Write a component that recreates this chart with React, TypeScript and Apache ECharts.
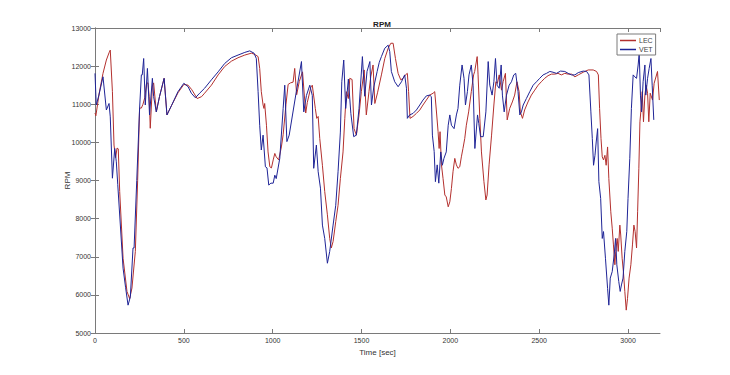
import React, { useEffect, useRef } from "react";
import * as echarts from "echarts";

const xTicks = [0, 500, 1000, 1500, 2000, 2500, 3000];
const yTicks = [5000, 6000, 7000, 8000, 9000, 10000, 11000, 12000, 13000];

const vetTime = [
  0, 7, 22, 45, 64, 79, 86, 98, 111, 120, 128, 158, 172, 186, 199, 214, 220, 235, 251, 261, 266, 274, 283, 295, 307, 323, 330, 345, 363, 389, 405, 430, 467, 500,
  524, 542, 565, 589, 617, 655, 693, 730, 768, 805, 843, 871, 895, 908, 918, 927, 936, 946, 959, 968, 978, 990, 1003, 1012, 1020, 1040, 1059, 1068,
  1080, 1093, 1133, 1162, 1175, 1190, 1209, 1223, 1231, 1246, 1256, 1269, 1280, 1293, 1308, 1321, 1340, 1355, 1368, 1381, 1389, 1400, 1411, 1426, 1440, 1456, 1471, 1486, 1505, 1518, 1531, 1547, 1556, 1569, 1588,
  1600, 1612, 1631, 1650, 1659, 1668, 1687, 1706, 1725, 1743, 1753, 1758, 1771, 1790, 1809, 1828, 1846, 1865, 1884, 1893, 1899, 1909, 1916, 1926, 1935, 1946, 1955, 1964, 1977, 1988, 1997, 2006, 2021, 2034, 2043, 2053, 2066, 2077, 2085, 2096, 2105, 2118, 2128,
  2138, 2153, 2160, 2170, 2185, 2200, 2213, 2222, 2235, 2245, 2254, 2263, 2275, 2286, 2293, 2303, 2316, 2331, 2344, 2357, 2368, 2381, 2391, 2400, 2410, 2428, 2447, 2466, 2485, 2503, 2522, 2541, 2560, 2578, 2597, 2620, 2644,
  2663, 2682, 2701, 2720, 2748, 2767, 2780, 2791, 2799, 2806, 2814, 2821, 2829, 2836, 2846, 2855, 2862, 2873, 2885, 2892, 2900, 2911, 2922, 2930, 2937, 2948, 2956, 2963, 2972, 2982, 2993, 3000, 3010, 3019, 3029, 3038, 3048, 3057, 3063, 3070, 3076, 3085, 3095, 3100, 3110, 3119, 3129, 3136, 3145,
];
const vetRpm = [
  11810, 10980, 11240, 11720, 10850, 11020, 10670, 9060, 9840, 9490, 8900, 6700, 6200, 5730, 5950, 7230, 7230, 9000, 10900, 11770, 11770, 12200, 10980, 11940, 10720, 11680, 11200, 10800, 11200, 11680, 10720, 10960, 11330, 11550,
  11460, 11290, 11170, 11290, 11420, 11640, 11850, 12070, 12220, 12290, 12360, 12400, 12340, 12200, 11330, 10450, 9800, 10190, 9360, 9330, 8880, 8930, 8930, 9140, 9050, 9580, 10890, 11500,
  10020, 10190, 11330, 12120, 10800, 11230, 11500, 11230, 9320, 9930, 9230, 8800, 7830, 7480, 6830, 7140, 7830, 8350, 9230, 10270, 11590, 12160, 10890, 11660, 10760, 10150, 10190, 10890, 12250, 11210, 11860, 12120, 10980, 11450, 11860,
  12100, 12250, 12470, 12550, 12380, 11860, 11590, 11460, 11590, 11770, 11420, 10630, 10720, 10760, 10850, 10980, 11110, 11220, 11240, 11200, 10190, 9760, 8970, 9410, 8930, 9750, 9400, 9580, 9750, 10450, 10720, 10450, 10360, 10720, 10890, 11500, 12030, 11680, 10980, 11330, 11770, 12030, 11500,
  9840, 10720, 10500, 10150, 10150, 10800, 12120, 11500, 11240, 11590, 12200, 11500, 11420, 12030, 11240, 10800, 11240, 11500, 11590, 11770, 11810, 11330, 10720, 10800, 10980, 11150, 11330, 11500, 11590, 11680, 11770, 11810, 11860, 11840, 11810, 11870, 11860,
  11810, 11770, 11770, 11830, 11870, 11860, 11770, 10800, 10100, 9400, 9660, 10010, 10360, 8970, 8530, 7480, 7660, 6960, 6170, 5730, 6440, 6610, 7050, 7480, 6790, 6350, 6090, 6260, 6440, 7140, 7660, 8530, 9580, 10890, 11770, 11720, 11680, 12030, 12340, 11240, 10800, 11590, 12030, 11240, 11680, 11940, 12200, 11500, 10590,
];

const lecTime = [
  0, 5, 24, 45, 64, 79, 86, 98, 107, 116, 124, 131, 139, 158, 180, 195, 208, 227, 240, 251, 261, 270, 280, 290, 298, 305, 311, 323, 330, 345, 363, 389, 405, 430, 467, 500,
  524, 545, 575, 600, 617, 655, 693, 730, 768, 805, 843, 880, 898, 918, 927, 936, 946, 951, 955, 965, 974, 984, 993, 1003, 1012, 1020, 1034, 1049,
  1059, 1075, 1087, 1100, 1115, 1124, 1135, 1150, 1168, 1186, 1195, 1215, 1223, 1240, 1248, 1256, 1265, 1280, 1293, 1308, 1321, 1330, 1340, 1355, 1368, 1381, 1396, 1406, 1415, 1426, 1434, 1447, 1458, 1471, 1486, 1499, 1515, 1527, 1542, 1552, 1565, 1575, 1590,
  1612, 1631, 1650, 1665, 1678, 1691, 1706, 1721, 1734, 1747, 1758, 1765, 1773, 1790, 1809, 1828, 1846, 1865, 1884, 1903, 1912, 1921, 1931, 1937, 1942, 1950, 1959, 1969, 1977, 1988, 1997, 2006, 2015, 2025, 2034, 2043, 2053, 2062, 2071, 2081, 2090, 2103, 2118, 2131, 2137,
  2151, 2156, 2166, 2175, 2189, 2200, 2207, 2218, 2232, 2245, 2256, 2265, 2275, 2288, 2297, 2310, 2320, 2334, 2349, 2362, 2375, 2387, 2394, 2406, 2418, 2437, 2456, 2475, 2494, 2512, 2531, 2550, 2569, 2588, 2606, 2625, 2644,
  2663, 2682, 2701, 2720, 2748, 2776, 2804, 2823, 2833, 2840, 2848, 2855, 2862, 2870, 2877, 2885, 2892, 2903, 2911, 2918, 2926, 2931, 2939, 2945, 2954, 2959, 2967, 2974, 2982, 2990, 2997, 3006, 3016, 3025, 3033, 3040, 3048, 3054, 3061, 3067, 3072, 3080, 3087, 3095, 3102, 3110, 3117, 3125, 3138, 3147, 3166, 3176,
];
const lecRpm = [
  10770, 10700, 11300, 11810, 12160, 12350, 12420, 11330, 9930, 9600, 9850, 9830, 8710, 6960, 6090, 5900, 6180, 7140, 9000, 10900, 10900, 11000, 11170, 11550, 11560, 11200, 10370, 11480, 11560, 10800, 11200, 11680, 10720, 10960, 11300, 11520,
  11500, 11380, 11150, 11200, 11290, 11500, 11770, 11990, 12130, 12220, 12290, 12340, 12310, 12250, 11940, 11330, 10980, 10890, 11020, 10450, 9750, 9360, 9330, 9540, 9710, 9620, 9540, 9880,
  10200, 11000, 11520, 11560, 11580, 11940, 11250, 11600, 11850, 10770, 11050, 11450, 11500, 10890, 10630, 10680, 10100, 9400, 8710, 8100, 7480, 7230, 7400, 7920, 8350, 9050, 9750, 10630, 11330, 11150, 11680, 11650, 10360, 10190, 10720, 11330, 11900, 10720, 11330, 11720, 12030, 11020, 11300,
  11770, 12200, 12470, 12600, 12600, 12200, 11810, 11640, 11680, 11770, 11810, 11330, 10630, 10680, 10760, 10850, 10980, 11110, 11240, 11290, 11330, 10850, 10280, 9840, 10280, 9410, 9050, 8620, 8570, 8310, 8440, 8790, 9230, 9580, 9410, 9320, 9360, 9620, 9840, 10100, 10450, 10800, 11330, 11770, 11860,
  12250, 11770, 10630, 9750, 8970, 8490, 8620, 9410, 10190, 10980, 11590, 11550, 11770, 11370, 11590, 11810, 10590, 10890, 11060, 11240, 11590, 11330, 10800, 10630, 10850, 11060, 11240, 11370, 11500, 11590, 11680, 11750, 11790, 11790, 11810, 11770, 11810,
  11790, 11790, 11720, 11770, 11840, 11900, 11900, 11860, 11770, 10890, 10100, 9620, 9540, 9660, 9400, 9880, 9050, 8180, 7750, 7310, 6790, 7140, 7480, 7140, 7830, 7570, 6960, 6610, 6090, 5600, 5900, 6440, 6790, 7310, 7830, 7660, 7230, 8180, 9320, 10540, 10800, 11330, 10540, 11240, 11500, 11290, 10540, 11290, 11110, 11550, 11860, 11110,
];

const zip = (t: number[], v: number[]) => t.map((x, i) => [x, v[i]]);

const FONT = "Liberation Sans, Arial, sans-serif";
const AXIS_COLOR = "#7a7a7a";
const LABEL_COLOR = "#333";
const LEC_COLOR = "#b3302e";
const VET_COLOR = "#1f2496";

export default function App() {
  const ref = useRef<HTMLDivElement>(null);
  useEffect(() => {
    if (!ref.current) return;
    const chart = echarts.init(ref.current, undefined, { renderer: "svg" });
    const xMin = xTicks[0];
    const xMax = 3180;
    const yMin = yTicks[0];
    const yMax = yTicks[yTicks.length - 1];
    const xInterval = xTicks[1] - xTicks[0];
    const yInterval = yTicks[1] - yTicks[0];
    const tickStyle = { show: true, inside: true, length: 4, lineStyle: { color: AXIS_COLOR } };
    const lineStyle = { show: true, lineStyle: { color: AXIS_COLOR, width: 1 } };
    const plain = (v: number) => String(v);
    chart.setOption({
      animation: false,
      backgroundColor: "#fff",
      title: {
        text: "RPM",
        left: 377,
        top: 15,
        textAlign: "center",
        textStyle: { fontFamily: FONT, fontSize: 8, fontWeight: "bold", color: "#222" },
      },
      legend: {
        orient: "vertical",
        left: 617,
        top: 34,
        padding: [3, 3, 2, 3],
        itemGap: 2,
        itemWidth: 16,
        itemHeight: 1.5,
        icon: "rect",
        borderColor: AXIS_COLOR,
        borderWidth: 1,
        backgroundColor: "#fff",
        textStyle: { fontFamily: FONT, fontSize: 7, color: "#444", padding: [0, 0, 0, -2] },
        data: [
          { name: "LEC", itemStyle: { color: LEC_COLOR } },
          { name: "VET", itemStyle: { color: VET_COLOR } },
        ],
      },
      grid: { left: 95, right: 70, top: 28, bottom: 42, containLabel: false },
      xAxis: [
        {
          type: "value",
          min: xMin,
          max: xMax,
          interval: xInterval,
          name: "Time [sec]",
          nameLocation: "middle",
          nameGap: 15,
          nameMoveOverlap: false,
          nameTextStyle: { fontFamily: FONT, fontSize: 8, color: LABEL_COLOR },
          axisLine: lineStyle,
          axisTick: tickStyle,
          axisLabel: { fontFamily: FONT, fontSize: 7, color: LABEL_COLOR, margin: 4, showMaxLabel: false, formatter: plain },
          splitLine: { show: false },
        },
        {
          type: "value",
          position: "top",
          min: xMin,
          max: xMax,
          interval: xInterval,
          axisLine: lineStyle,
          axisTick: tickStyle,
          axisLabel: { show: false },
          splitLine: { show: false },
        },
      ],
      yAxis: [
        {
          type: "value",
          min: yMin,
          max: yMax,
          interval: yInterval,
          name: "RPM",
          nameLocation: "middle",
          nameGap: 24,
          nameRotate: 90,
          nameMoveOverlap: false,
          nameTextStyle: { fontFamily: FONT, fontSize: 8, color: LABEL_COLOR },
          axisLine: lineStyle,
          axisTick: tickStyle,
          axisLabel: { fontFamily: FONT, fontSize: 7, color: LABEL_COLOR, margin: 4, formatter: plain },
          splitLine: { show: false },
        },
        {
          type: "value",
          position: "right",
          min: yMin,
          max: yMax,
          interval: yInterval,
          axisLine: lineStyle,
          axisTick: tickStyle,
          axisLabel: { show: false },
          splitLine: { show: false },
        },
      ],
      series: [
        {
          name: "LEC",
          type: "line",
          symbol: "none",
          data: zip(lecTime, lecRpm),
          lineStyle: { color: LEC_COLOR, width: 1 },
          itemStyle: { color: LEC_COLOR },
          z: 2,
        },
        {
          name: "VET",
          type: "line",
          symbol: "none",
          data: zip(vetTime, vetRpm),
          lineStyle: { color: VET_COLOR, width: 1 },
          itemStyle: { color: VET_COLOR },
          z: 3,
        },
      ],
    });
    return () => chart.dispose();
  }, []);
  return (
    <div
      ref={ref}
      style={{ position: "fixed", left: 0, top: 0, width: 730, height: 375, background: "#fff" }}
    />
  );
}
